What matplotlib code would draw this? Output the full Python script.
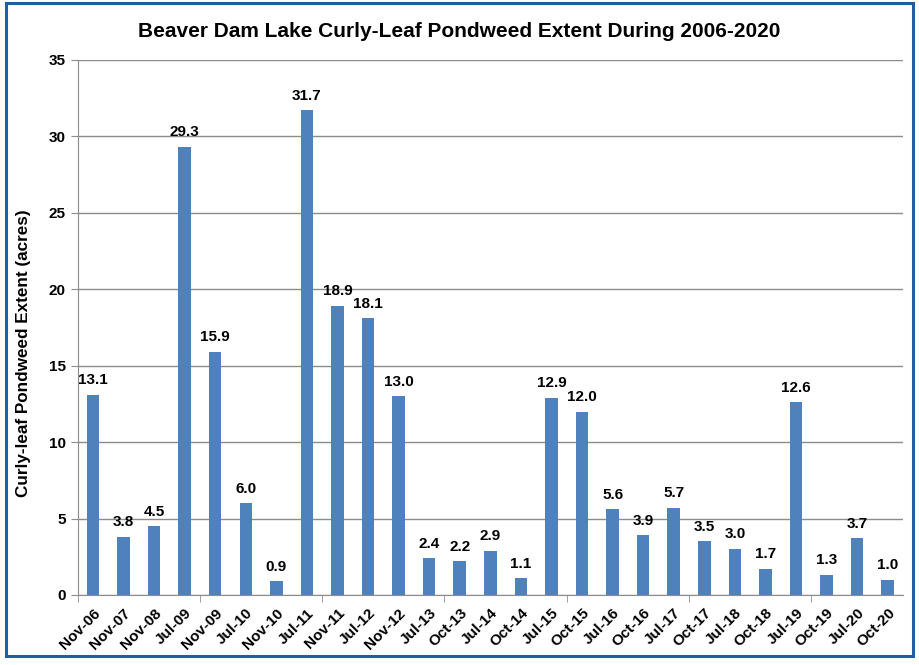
import numpy as np
import matplotlib
matplotlib.use("Agg")
import matplotlib.pyplot as plt
from matplotlib.patches import Rectangle

plt.rcParams['font.family'] = ['Liberation Sans', 'DejaVu Sans']

dates = ['Nov-06', 'Nov-07', 'Nov-08', 'Jul-09', 'Nov-09', 'Jul-10', 'Nov-10',
         'Jul-11', 'Nov-11', 'Jul-12', 'Nov-12', 'Jul-13', 'Oct-13', 'Jul-14',
         'Oct-14', 'Jul-15', 'Oct-15', 'Jul-16', 'Oct-16', 'Jul-17', 'Oct-17',
         'Jul-18', 'Oct-18', 'Jul-19', 'Oct-19', 'Jul-20', 'Oct-20']
acres = [13.1, 3.8, 4.5, 29.3, 15.9, 6.0, 0.9, 31.7, 18.9, 18.1, 13.0, 2.4, 2.2,
         2.9, 1.1, 12.9, 12.0, 5.6, 3.9, 5.7, 3.5, 3.0, 1.7, 12.6, 1.3, 3.7, 1.0]

fig = plt.figure(figsize=(9.19, 6.65), dpi=100)
ax = fig.add_axes([0.0845, 0.1053, 0.8981, 0.8045])

x = np.arange(len(dates))
ax.bar(x, acres, width=0.41, color='#4F81BD', zorder=3)
for xi, v in zip(x, acres):
    ax.text(xi, v + 0.5, f'{v:.1f}', ha='center', va='bottom',
            fontsize=11, fontweight='bold', zorder=4)

ax.set_xlim(-0.5, len(dates) - 0.5)
ax.set_ylim(0, 35)
ax.set_yticks(range(0, 36, 5))
ax.yaxis.grid(True, color='#8c8c8c', linewidth=1.0, zorder=0)

ax.set_xticks(x)
ax.set_xticklabels(dates, rotation=45, ha='right', rotation_mode='anchor',
                   fontsize=11, fontweight='bold')
ax.tick_params(axis='x', length=0, pad=8)
ax.set_xticks(np.arange(-0.5, len(dates), 4), minor=True)
ax.tick_params(axis='x', which='minor', length=5, color='#8c8c8c')
ax.tick_params(axis='y', length=5, color='#8c8c8c', labelsize=11)
for lbl in ax.get_yticklabels():
    lbl.set_fontweight('bold')

for s in ['top', 'right']:
    ax.spines[s].set_visible(False)
for s in ['left', 'bottom']:
    ax.spines[s].set_color('#8c8c8c')

ax.set_ylabel('Curly-leaf Pondweed Extent (acres)', fontsize=12.3, fontweight='bold')
ax.yaxis.set_label_coords(-0.056, 0.452)
fig.text(0.5, 0.953, 'Beaver Dam Lake Curly-Leaf Pondweed Extent During 2006-2020',
         ha='center', va='center', fontsize=15, fontweight='bold')

# blue frame around the chart
fig.patches.append(Rectangle((6 / 919, 1 - 656 / 665), 907 / 919, 653 / 665,
                             transform=fig.transFigure, fill=False,
                             edgecolor='#1F5F9F', linewidth=2.2))

fig.savefig('out.png', dpi=100)
